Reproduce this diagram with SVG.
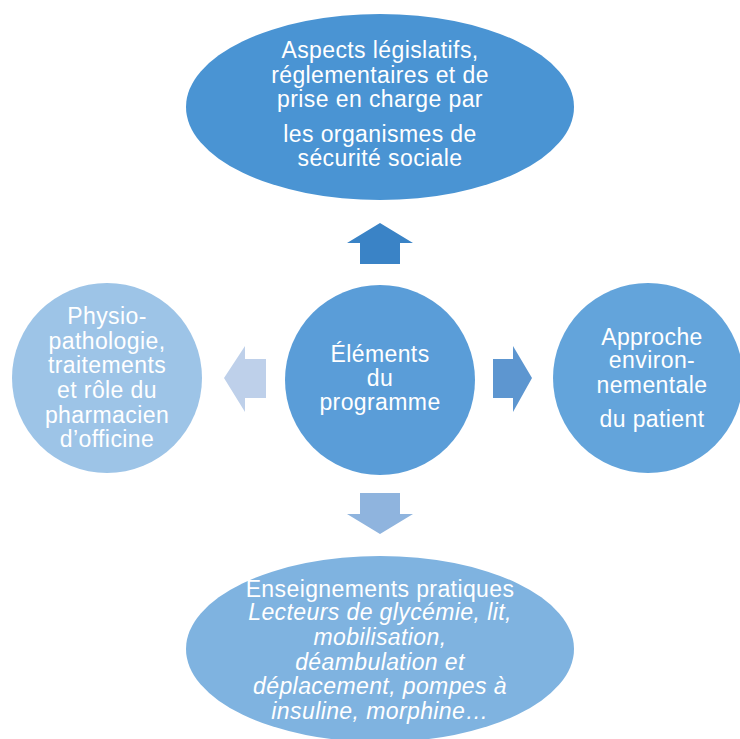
<svg xmlns="http://www.w3.org/2000/svg" width="740" height="739" viewBox="0 0 740 739">
<style>
text{font-family:"Liberation Sans",Arial,sans-serif;font-size:23px;letter-spacing:0.4px;fill:#fff;text-anchor:middle}
.i{font-style:italic}
</style>
<rect width="740" height="739" fill="#fff"/>
<g id="connectors">
<polygon points="380,223 413,243 400,243 400,264 360,264 360,243 347,243" fill="#3A83C6"/>
<polygon points="224,378 245,346 245,359 266,359 266,398 245,398 245,412" fill="#BED0EA"/>
<polygon points="532,378 513,346 513,359 493,359 493,398 513,398 513,412" fill="#5D96D0"/>
<polygon points="380,534 413,514 400,514 400,493 360,493 360,514 347,514" fill="#8FB4DE"/>
</g>
<g id="top">
<ellipse cx="380" cy="107" rx="194" ry="93" fill="#4A94D3"/>
<text x="380" y="58">Aspects législatifs,</text>
<text x="380" y="83">réglementaires et de</text>
<text x="380" y="107">prise en charge par</text>
<text x="380" y="142">les organismes de</text>
<text x="380" y="166">sécurité sociale</text>
</g>
<g id="center">
<circle cx="380" cy="380" r="95" fill="#5A9DD8"/>
<text x="380" y="362">Éléments</text>
<text x="380" y="386">du</text>
<text x="380" y="410">programme</text>
</g>
<g id="left">
<circle cx="107" cy="378" r="95" fill="#9DC4E7"/>
<text x="107" y="324">Physio-</text>
<text x="107" y="349">pathologie,</text>
<text x="107" y="373">traitements</text>
<text x="107" y="398">et rôle du</text>
<text x="107" y="423">pharmacien</text>
<text x="107" y="447">d’officine</text>
</g>
<g id="right">
<circle cx="648" cy="378" r="95" fill="#63A4DB"/>
<text x="652" y="345">Approche</text>
<text x="652" y="368">environ-</text>
<text x="652" y="393">nementale</text>
<text x="652" y="427">du patient</text>
</g>
<g id="bottom">
<ellipse cx="380" cy="649" rx="194" ry="93" fill="#7FB3E0"/>
<text x="380" y="597">Enseignements pratiques</text>
<text class="i" x="380" y="620">Lecteurs de glycémie, lit,</text>
<text class="i" x="380" y="645">mobilisation,</text>
<text class="i" x="380" y="670">déambulation et</text>
<text class="i" x="380" y="694">déplacement, pompes à</text>
<text class="i" x="380" y="719">insuline, morphine…</text>
</g>
</svg>
